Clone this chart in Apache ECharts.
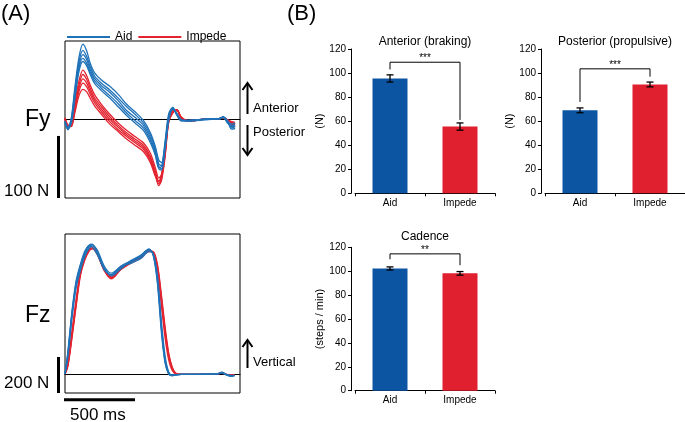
<!DOCTYPE html>
<html><head><meta charset="utf-8">
<script src="https://cdn.jsdelivr.net/npm/echarts@6/dist/echarts.min.js"></script>
<style>html,body{margin:0;padding:0;background:#fff}#c{width:685px;height:422px}</style>
</head><body><div id="c"></div>
<script>
const FONT = 'Liberation Sans, Arial, Helvetica, sans-serif';

// ---------- Panel A: ground reaction force traces (ms, N) ----------
const fyTime = [0,20,45,70,100,128,155,180,210,260,320,380,440,500,560,610,645,670,690,715,740,770,800,830,880,1000,1100,1130,1160,1190,1215];
const fyAid1 = [-5,-16,2,50,100,121,110,90,75,63,53,40,24,12,-2,-22,-44,-66,-70,-35,8,19,6,-3,-2,0,1,4,-4,-14,-12];
const fyAid2 = [-3,-13,0,45,93,111,101,85,70,58,47,34,20,8,-6,-26,-48,-72,-75,-40,3,18,7,-2,-2,0,0,3,-6,-10,-9];
const fyAid3 = [-4,-15,-3,40,87,104,96,80,66,54,43,30,14,3,-10,-30,-52,-76,-80,-45,0,17,8,-1,-3,0,1,3,-2,-16,-15];
const fyAid4 = [-6,-17,-5,36,82,98,90,76,62,50,38,25,10,-2,-14,-34,-56,-80,-82,-48,-3,16,9,-1,-2,0,0,4,-5,-12,-10];
const fyAid5 = [-5,-14,-6,32,77,93,86,72,58,46,34,20,6,-6,-18,-38,-58,-78,-76,-42,2,18,7,-2,-3,-1,1,3,-3,-8,-6];
const fyImp1 = [2,-10,-8,25,62,79,70,55,40,24,8,-6,-18,-28,-38,-55,-78,-95,-88,-50,0,14,15,3,-3,0,1,3,-1,-6,-8];
const fyImp2 = [1,-12,-9,20,55,72,64,50,35,20,4,-10,-22,-32,-42,-60,-84,-100,-92,-55,-3,12,14,2,-3,0,1,3,-2,-8,-10];
const fyImp3 = [0,-11,-10,17,50,65,58,45,31,16,0,-13,-25,-35,-45,-63,-88,-104,-95,-58,-5,11,15,3,-2,0,1,2,-1,-5,-7];
const fyImp4 = [2,-9,-12,14,45,58,52,40,27,12,-4,-17,-28,-38,-48,-66,-90,-107,-98,-60,-6,10,14,3,-3,0,0,3,-2,-9,-12];
const fyImp5 = [1,-10,-11,10,38,48,44,34,22,8,-8,-20,-32,-42,-52,-70,-92,-100,-90,-52,-2,12,15,2,-3,0,1,2,-1,-4,-5];

const fzTime = [0,20,50,80,110,140,170,195,230,280,330,400,470,540,600,630,660,690,715,740,765,790,830,950,1090,1120,1150,1185,1210];
const fzAid1 = [0,105,330,500,590,660,705,717,680,590,550,592,622,650,688,665,530,250,80,5,-8,-5,-3,-3,0,8,-3,-10,-8];
const fzAid2 = [0,120,350,520,610,680,712,705,665,585,545,585,630,660,695,660,505,220,60,0,-10,-6,-3,-2,1,6,-5,-12,-6];
const fzAid3 = [0,90,310,480,575,650,695,712,690,600,560,598,615,640,680,670,550,280,100,12,-6,-4,-2,-3,0,10,-2,-8,-10];
const fzAid4 = [0,110,340,510,600,670,715,722,675,580,552,600,628,655,692,662,520,240,70,3,-9,-5,-3,-2,0,7,-4,-14,-9];
const fzImp1 = [0,50,220,400,560,640,688,700,670,580,535,585,620,650,685,678,595,400,230,100,30,2,-3,-2,0,6,-2,-6,-5];
const fzImp2 = [0,40,200,380,545,630,680,695,665,575,528,580,615,645,680,680,610,430,260,120,40,5,-3,-2,0,5,-3,-8,-4];
const fzImp3 = [0,60,240,420,570,650,692,702,672,585,540,590,625,652,688,672,580,370,200,80,20,0,-3,-2,1,7,-2,-5,-6];
const fzImp4 = [0,45,210,390,555,635,684,698,668,578,532,583,618,648,684,676,600,415,245,110,35,3,-3,-2,0,6,-2,-7,-5];

const fyScaleBar = [-27, -127];   // 100 N
const fzScaleBar = [94, -106];    // 200 N
const timeScaleBar = [0, 500];    // 500 ms
const timeBarLevel = -144;        // N, below the Fz box

// ---------- Panel B: bar charts ----------
const categories = ['Aid', 'Impede'];
const anteriorMean = [95.5, 55.5];
const anteriorSE = [3, 3];
const anteriorBracket = [103, 109, 61];
const posteriorMean = [69, 90.5];
const posteriorSE = [2, 2];
const posteriorBracket = [76, 103.5, 97];
const cadenceMean = [102.3, 98.2];
const cadenceSE = [1.3, 1.5];
const cadenceBracket = [110, 114.5, 105];
const yTicks = {min: 0, max: 120, interval: 20};

const AID_LINE = '#1f72b8', IMP_LINE = '#e3232f';
const AID_BAR = '#0c55a3', IMP_BAR = '#e01f2f';

function pairs(t, v) { return t.map((x, i) => [x, v[i]]); }
function trace(name, color, t, v, gi) {
  return {type: 'line', name: name, xAxisIndex: gi, yAxisIndex: gi, data: pairs(t, v),
    symbol: 'none', smooth: 0.3, lineStyle: {color: color, width: 1.3}, itemStyle: {color: color},
    silent: true, animation: false};
}
function errRender(params, api) {
  const i = api.value(0), m = api.value(1), se = api.value(2);
  const hi = api.coord([i, m + se]), lo = api.coord([i, m - se]);
  const w = 3.5, st = {stroke: '#000', lineWidth: 1.3};
  return {type: 'group', children: [
    {type: 'line', shape: {x1: hi[0], y1: hi[1], x2: lo[0], y2: lo[1]}, style: st},
    {type: 'line', shape: {x1: hi[0]-w, y1: hi[1], x2: hi[0]+w, y2: hi[1]}, style: st},
    {type: 'line', shape: {x1: lo[0]-w, y1: lo[1], x2: lo[0]+w, y2: lo[1]}, style: st}
  ]};
}
function barSeries(gi, mean, se, br) {
  return [
    {type: 'bar', xAxisIndex: gi, yAxisIndex: gi, barWidth: 35, silent: true, animation: false,
     data: mean.map((v, i) => ({value: v, itemStyle: {color: i === 0 ? AID_BAR : IMP_BAR}}))},
    {type: 'custom', xAxisIndex: gi, yAxisIndex: gi, renderItem: errRender, silent: true, animation: false,
     data: mean.map((v, i) => [i, v, se[i]]), encode: {x: 0, y: 1}, z: 4},
    {type: 'line', xAxisIndex: gi, yAxisIndex: gi, symbol: 'none', silent: true, animation: false,
     data: [[0, br[0]], [0, br[1]], [1, br[1]], [1, br[2]]], lineStyle: {color: '#000', width: 1}, z: 4}
  ];
}
function barX(gi) {
  return {gridIndex: gi, type: 'category', data: categories, boundaryGap: true,
    axisLine: {show: true, lineStyle: {color: '#000', width: 1}},
    axisTick: {show: true, alignWithLabel: false, length: 3, lineStyle: {color: '#000'}},
    axisLabel: {color: '#000', fontSize: 10, fontFamily: FONT, margin: 5}};
}
function barY(gi, name) {
  return {gridIndex: gi, type: 'value', min: yTicks.min, max: yTicks.max, interval: yTicks.interval, offset: 4,
    name: name, nameLocation: 'middle', nameGap: 26, nameRotate: 90,
    nameTextStyle: {color: '#000', fontSize: 11, fontFamily: FONT},
    axisLine: {show: true, lineStyle: {color: '#000', width: 1}},
    axisTick: {show: true, length: 3, lineStyle: {color: '#000'}},
    axisLabel: {color: '#000', fontSize: 10, fontFamily: FONT, margin: 5},
    splitLine: {show: false}};
}
function traceX(gi) {
  return {gridIndex: gi, type: 'value', min: 0, max: 1250,
    axisLine: {show: true, onZero: true, lineStyle: {color: '#000', width: 1}},
    axisTick: {show: false}, axisLabel: {show: false}, splitLine: {show: false}};
}
function traceY(gi, mn, mx) {
  return {gridIndex: gi, type: 'value', min: mn, max: mx,
    axisLine: {show: false}, axisTick: {show: false}, axisLabel: {show: false}, splitLine: {show: false}};
}
function txt(x, y, s, size, align) {
  return {type: 'text', x: x, y: y, silent: true,
    style: {text: s, fontSize: size, fontFamily: FONT, fill: '#000', align: align || 'left', verticalAlign: 'middle'}};
}
function seg(x1, y1, x2, y2, w) {
  return {type: 'line', silent: true, shape: {x1: x1, y1: y1, x2: x2, y2: y2}, style: {stroke: '#000', lineWidth: w}};
}
function arrow(x, y1, y2) { // head at y2
  const d = y2 < y1 ? 1 : -1;
  return [
    seg(x, y1, x, y2 + d, 2),
    {type: 'polyline', silent: true, shape: {points: [[x - 5, y2 + d * 7], [x, y2], [x + 5, y2 + d * 7]]}, style: {stroke: '#000', lineWidth: 2, fill: null}}
  ];
}

const series = [];
[fyImp1, fyImp2, fyImp3, fyImp4, fyImp5].forEach(v => series.push(trace('Impede', IMP_LINE, fyTime, v, 0)));
[fyAid1, fyAid2, fyAid3, fyAid4, fyAid5].forEach(v => series.push(trace('Aid', AID_LINE, fyTime, v, 0)));
[fzImp1, fzImp2, fzImp3, fzImp4].forEach(v => series.push(trace('Impede', IMP_LINE, fzTime, v, 1)));
[fzAid1, fzAid2, fzAid3, fzAid4].forEach(v => series.push(trace('Aid', AID_LINE, fzTime, v, 1)));
series.push(...barSeries(2, anteriorMean, anteriorSE, anteriorBracket));
series.push(...barSeries(3, posteriorMean, posteriorSE, posteriorBracket));
series.push(...barSeries(4, cadenceMean, cadenceSE, cadenceBracket));

const chart = echarts.init(document.getElementById('c'), null, {renderer: 'canvas'});
chart.setOption({
  animation: false,
  backgroundColor: '#fff',
  textStyle: {fontFamily: FONT},
  legend: {data: ['Aid', 'Impede'], left: 62, top: 26, padding: 5, icon: 'rect', itemWidth: 43, itemHeight: 2, itemGap: 6,
    textStyle: {color: '#000', fontSize: 12, fontFamily: FONT}, selectedMode: false},
  grid: [
    {left: 65, top: 41, width: 175, height: 157, show: true, borderColor: '#000', borderWidth: 1, backgroundColor: 'transparent'},
    {left: 65, top: 234, width: 175, height: 159, show: true, borderColor: '#000', borderWidth: 1, backgroundColor: 'transparent'},
    {left: 355, top: 49, width: 140, height: 144.3},
    {left: 545, top: 49, width: 140, height: 144.3},
    {left: 355, top: 247.3, width: 140, height: 143.4}
  ],
  xAxis: [traceX(0), traceX(1), barX(2), barX(3), barX(4)],
  yAxis: [traceY(0, -127, 126), traceY(1, -106, 778), barY(2, '(N)'), barY(3, '(N)'), barY(4, '(steps / min)')],
  series: series
});

// scale bars positioned through the trace axes' own scales
const barX0 = 58.5;
const fyA = chart.convertToPixel({gridIndex: 0}, [0, fyScaleBar[0]]);
const fyB = chart.convertToPixel({gridIndex: 0}, [0, fyScaleBar[1]]);
const fzA = chart.convertToPixel({gridIndex: 1}, [0, fzScaleBar[0]]);
const fzB = chart.convertToPixel({gridIndex: 1}, [0, fzScaleBar[1]]);
const tA = chart.convertToPixel({gridIndex: 1}, [timeScaleBar[0], timeBarLevel]);
const tB = chart.convertToPixel({gridIndex: 1}, [timeScaleBar[1], timeBarLevel]);

chart.setOption({
  graphic: [
    seg(barX0, fyA[1], barX0, fyB[1], 3),
    seg(barX0, fzA[1], barX0, fzB[1], 3),
    seg(tA[0] - 1, tA[1], tB[0], tB[1], 3),
    txt(1, 14, '(A)', 22),
    txt(287, 14, '(B)', 22),
    txt(25, 120, 'Fy', 23),
    txt(25, 316, 'Fz', 23),
    txt(4, 191, '100 N', 17),
    txt(4, 383, '200 N', 17),
    txt(70, 415, '500 ms', 17),
    ...arrow(247.5, 114, 83),
    ...arrow(247.5, 125, 155),
    ...arrow(247.5, 368, 340),
    txt(253, 108, 'Anterior', 13),
    txt(253, 132, 'Posterior', 13),
    txt(253, 362, 'Vertical', 13),
    txt(425, 42, 'Anterior (braking)', 12, 'center'),
    txt(615, 42, 'Posterior (propulsive)', 12, 'center'),
    txt(425, 237, 'Cadence', 12, 'center'),
    txt(425, 58, '***', 10, 'center'),
    txt(615, 65, '***', 10, 'center'),
    txt(425, 250, '**', 10, 'center')
  ]
});
</script></body></html>
